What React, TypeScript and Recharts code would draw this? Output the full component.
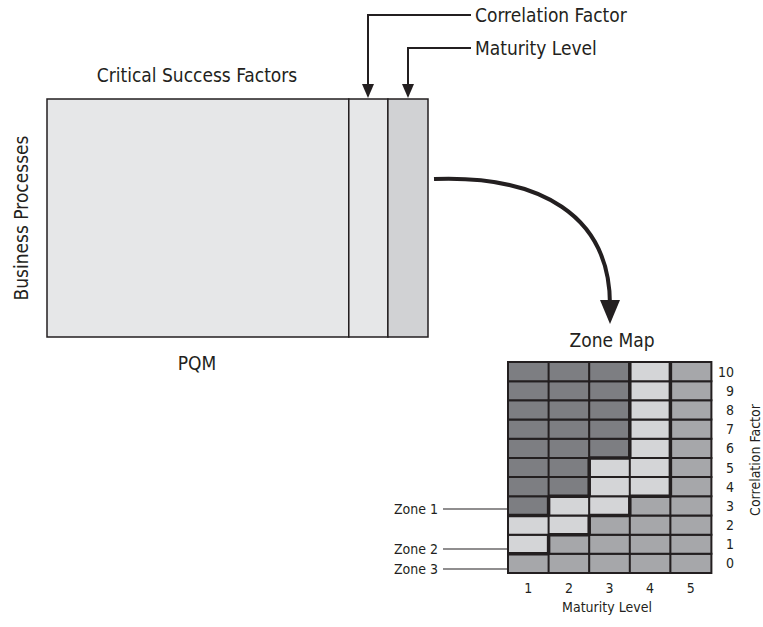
import { Bar, BarChart, Cell, LineChart, ReferenceLine, XAxis, YAxis } from "recharts";

// PQM matrix column widths (Critical Success Factors, Correlation Factor, Maturity Level)
const pqmColumns = ["csf", "cf", "ml"];
const pqmWidths = [301, 39, 40];
const pqmFills = ["#e6e7e8", "#e6e7e8", "#d1d2d4"];

// zone map
const maturityLevels = ["1", "2", "3", "4", "5"];
const correlationFactors = [0, 1, 2, 3, 4, 5, 6, 7, 8, 9, 10];
// lowest correlation factor that belongs to zone 2 / zone 1, per maturity level (11 = none)
const zone2From = [1, 2, 3, 4, 11];
const zone1From = [3, 4, 6, 11, 11];
const zoneColors: Record<number, string> = { 1: "#7d7e82", 2: "#d4d5d7", 3: "#a6a7aa" };

const font = '"Liberation Sans Narrow", "DejaVu Sans Condensed", Arial, sans-serif';
const ink = "#231f20";

const pqmData = [
  Object.fromEntries([["name", "PQM"], ...pqmColumns.map((k, i) => [k, pqmWidths[i]])]),
];

const zoneData = maturityLevels.map((level) => {
  const row: Record<string, string | number> = { level };
  correlationFactors.forEach((cf) => (row[`r${cf}`] = 1));
  return row;
});

function zoneOf(col: number, cf: number) {
  if (cf >= zone1From[col]) return 1;
  if (cf >= zone2From[col]) return 2;
  return 3;
}

function boundarySegments(from: number[]) {
  const segs: { x1: number; y1: number; x2: number; y2: number }[] = [];
  from.forEach((v, i) => {
    if (v > 0 && v < correlationFactors.length) segs.push({ x1: i + 0.5, y1: v, x2: i + 1.5, y2: v });
    if (i < from.length - 1 && from[i + 1] !== v) {
      segs.push({ x1: i + 1.5, y1: Math.min(v, from[i + 1]), x2: i + 1.5, y2: Math.max(v, from[i + 1]) });
    }
  });
  return segs;
}

const segments = [...boundarySegments(zone2From), ...boundarySegments(zone1From)];

const YTick = (props: any) => (
  <text x={props.x + 23} y={props.y} textAnchor="end" dominantBaseline="central" fontFamily={font} fontSize={14} fill={ink}>
    {props.payload.value - 0.5}
  </text>
);

const XTick = (props: any) => (
  <text x={props.x} y={props.y + 15} textAnchor="middle" dominantBaseline="central" fontFamily={font} fontSize={14} fill={ink}>
    {props.payload.value}
  </text>
);

export default function App() {
  return (
    <div style={{ position: "absolute", left: 0, top: 0, width: 763, height: 627, background: "#fff", overflow: "hidden" }}>
      <div style={{ position: "absolute", left: 40, top: 92 }}>
        <BarChart width={395} height={252} data={pqmData} layout="vertical" barCategoryGap={0} margin={{ top: 7, right: 7, bottom: 7, left: 7 }}>
          <XAxis type="number" hide domain={[0, pqmWidths.reduce((a, b) => a + b, 0)]} />
          <YAxis type="category" dataKey="name" hide />
          {pqmColumns.map((k, i) => (
            <Bar key={k} dataKey={k} stackId="p" fill={pqmFills[i]} stroke={ink} strokeWidth={1.5} isAnimationActive={false} />
          ))}
        </BarChart>
      </div>

      <div style={{ position: "absolute", left: 480, top: 350 }}>
        <BarChart width={283} height={277} data={zoneData} barCategoryGap={0} barGap={0} margin={{ top: 12, right: 12, bottom: 24, left: 28 }}>
          <XAxis dataKey="level" height={30} axisLine={false} tickLine={false} tickSize={0} tickMargin={0} tick={<XTick />} />
          <YAxis
            orientation="right"
            type="number"
            domain={[0, 11]}
            ticks={correlationFactors.map((c) => c + 0.5)}
            interval={0}
            width={40}
            axisLine={false}
            tickLine={false}
            tickSize={0}
            tickMargin={0}
            tick={<YTick />}
          />
          {correlationFactors.map((cf) => (
            <Bar key={cf} dataKey={`r${cf}`} stackId="z" stroke={ink} strokeWidth={2} isAnimationActive={false}>
              {maturityLevels.map((lvl, i) => (
                <Cell key={lvl} fill={zoneColors[zoneOf(i, cf)]} />
              ))}
            </Bar>
          ))}
        </BarChart>
      </div>

      {/* zone boundaries, same plot area as the zone map */}
      <div style={{ position: "absolute", left: 480, top: 350, pointerEvents: "none" }}>
        <LineChart width={283} height={277} data={[]} margin={{ top: 12, right: 52, bottom: 54, left: 28 }}>
          <XAxis type="number" dataKey="x" domain={[0.5, 5.5]} hide allowDataOverflow />
          <YAxis type="number" domain={[0, 11]} hide allowDataOverflow />
          {segments.map((s, i) => (
            <ReferenceLine
              key={i}
              segment={[
                { x: s.x1, y: s.y1 },
                { x: s.x2, y: s.y2 },
              ]}
              stroke={ink}
              strokeWidth={3.5}
              ifOverflow="visible"
            />
          ))}
        </LineChart>
      </div>

      <svg width={763} height={627} style={{ position: "absolute", left: 0, top: 0, pointerEvents: "none" }} fontFamily={font} fill={ink}>
        <text x={197} y={75} textAnchor="middle" dominantBaseline="central" fontSize={19}>Critical Success Factors</text>
        <text x={197} y={363} textAnchor="middle" dominantBaseline="central" fontSize={19}>PQM</text>
        <text x={21} y={218} textAnchor="middle" dominantBaseline="central" fontSize={19} transform="rotate(-90 21 218)">Business Processes</text>
        <text x={475} y={15} dominantBaseline="central" fontSize={19}>Correlation Factor</text>
        <text x={475} y={48} dominantBaseline="central" fontSize={19}>Maturity Level</text>
        <text x={612} y={340} textAnchor="middle" dominantBaseline="central" fontSize={19}>Zone Map</text>

        <polyline points="471,15 368,15 368,90" fill="none" stroke={ink} strokeWidth={2} />
        <polygon points="362,84 374,84 368,98" />
        <polyline points="471,48 408,48 408,90" fill="none" stroke={ink} strokeWidth={2} />
        <polygon points="402,84 414,84 408,98" />

        <path d="M434,179 C540,175 610,215 610,305" fill="none" stroke={ink} strokeWidth={4} />
        <polygon points="600,300 620,300 610,324" />

        <text x={438} y={509} textAnchor="end" dominantBaseline="central" fontSize={14}>Zone 1</text>
        <text x={438} y={549} textAnchor="end" dominantBaseline="central" fontSize={14}>Zone 2</text>
        <text x={438} y={569} textAnchor="end" dominantBaseline="central" fontSize={14}>Zone 3</text>
        <line x1={443} y1={509} x2={508} y2={509} stroke={ink} strokeWidth={1.2} />
        <line x1={443} y1={549} x2={508} y2={549} stroke={ink} strokeWidth={1.2} />
        <line x1={443} y1={569} x2={508} y2={569} stroke={ink} strokeWidth={1.2} />

        <text x={607} y={607} textAnchor="middle" dominantBaseline="central" fontSize={14}>Maturity Level</text>
        <text x={760} y={460} textAnchor="middle" fontSize={14} transform="rotate(-90 760 460)">Correlation Factor</text>
      </svg>
    </div>
  );
}
